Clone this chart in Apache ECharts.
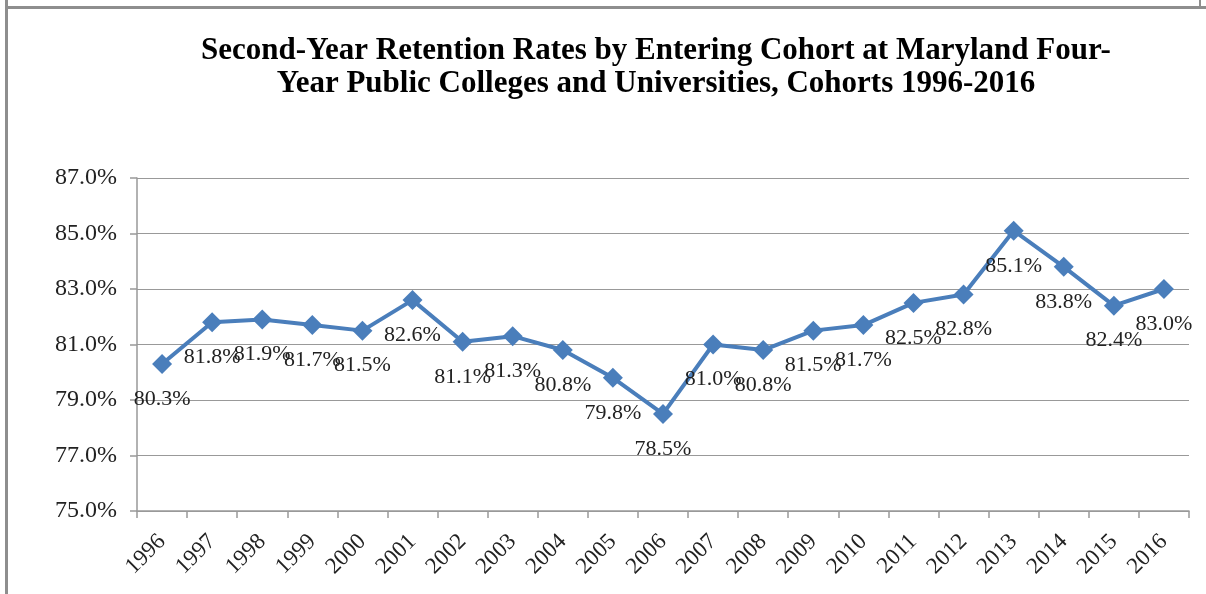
<!DOCTYPE html>
<html>
<head>
<meta charset="utf-8">
<script src="https://cdn.jsdelivr.net/npm/echarts@6/dist/echarts.min.js"></script>
<style>
  html, body { margin: 0; padding: 0; background: #fff; }
  #wrap { position: relative; width: 1206px; height: 594px; overflow: hidden; }
  #main { position: absolute; left: 0; top: 0; width: 1206px; height: 594px; }
  .frame { position: absolute; background: #8e8e8e; }
</style>
</head>
<body>
<div id="wrap">
  <div id="main"></div>
  <!-- border of the pasted chart box -->
  <div class="frame" style="left:5px;top:0;width:3px;height:594px;"></div>
  <div class="frame" style="left:5px;top:6px;width:1201px;height:3px;"></div>
  <div class="frame" style="left:1199px;top:0;width:2px;height:8px;"></div>
</div>
<script>
  // cohorts
  var cohorts = ['1996','1997','1998','1999','2000','2001','2002','2003','2004','2005','2006',
                 '2007','2008','2009','2010','2011','2012','2013','2014','2015','2016'];
  // second-year retention rate (%)
  var retention = [80.3, 81.8, 81.9, 81.7, 81.5, 82.6, 81.1, 81.3, 80.8, 79.8, 78.5,
                   81.0, 80.8, 81.5, 81.7, 82.5, 82.8, 85.1, 83.8, 82.4, 83.0];
  var yMin = 75, yMax = 87, yStep = 2;

  var serif = '"Liberation Serif", "Times New Roman", serif';
  var myChart = echarts.init(document.getElementById('main'));
  myChart.setOption({
    animation: false,
    title: {
      text: 'Second-Year Retention Rates by Entering Cohort at Maryland Four-\nYear Public Colleges and Universities, Cohorts 1996-2016',
      left: 651,
      textAlign: 'center',
      top: 29,
      textStyle: {
        fontFamily: serif,
        fontWeight: 'bold',
        fontSize: 31,
        lineHeight: 33,
        color: '#000'
      }
    },
    grid: {
      left: 137,
      right: 17,
      top: 178,
      bottom: 83,
      containLabel: false
    },
    xAxis: {
      type: 'category',
      boundaryGap: true,
      data: cohorts,
      axisLine: { lineStyle: { color: '#999', width: 1.5 } },
      axisTick: { show: true, length: 7, lineStyle: { color: '#999', width: 1.5 } },
      axisLabel: {
        rotate: 45,
        margin: 27,
        interval: 0,
        fontFamily: serif,
        fontSize: 23,
        color: '#222'
      }
    },
    yAxis: {
      type: 'value',
      min: yMin,
      max: yMax,
      interval: yStep,
      axisLine: { show: true, lineStyle: { color: '#999', width: 1.5 } },
      axisTick: { show: true, length: 7, lineStyle: { color: '#999', width: 1.5 } },
      axisLabel: {
        margin: 20,
        fontFamily: serif,
        fontSize: 24,
        color: '#222',
        formatter: function (v) { return v.toFixed(1) + '%'; }
      },
      splitLine: { lineStyle: { color: '#999', width: 1.2 } }
    },
    series: [{
      name: 'Retention',
      type: 'line',
      data: retention,
      symbol: 'diamond',
      symbolSize: 20,
      lineStyle: { color: '#4a7ebb', width: 4 },
      itemStyle: { color: '#4a7ebb' },
      label: {
        show: true,
        position: 'bottom',
        distance: 14,
        fontFamily: serif,
        fontSize: 22,
        color: '#222',
        formatter: function (p) { return p.value.toFixed(1) + '%'; }
      }
    }]
  });
</script>
</body>
</html>
